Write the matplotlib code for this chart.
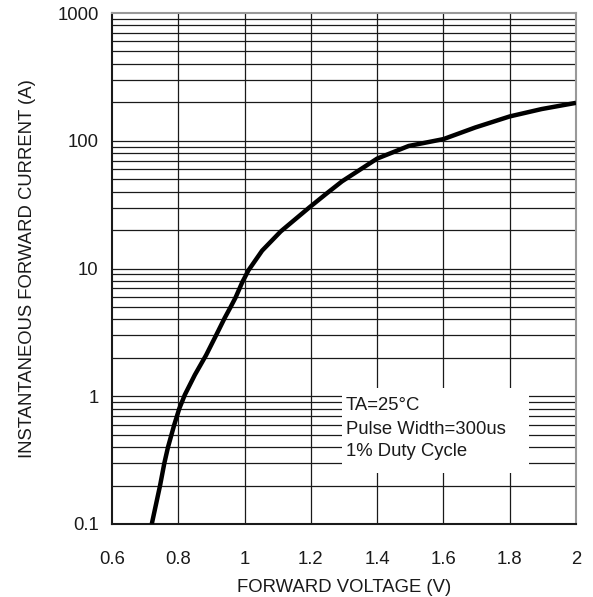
import matplotlib
matplotlib.use("Agg")
import matplotlib.pyplot as plt
from matplotlib.patches import Rectangle

plt.rcParams['font.family'] = ['Liberation Sans', 'DejaVu Sans']

# Data
voltage = [0.72, 0.745, 0.758, 0.769, 0.788, 0.803, 0.82, 0.85, 0.884, 0.916,
           0.94, 0.958, 0.973, 0.993, 1.012, 1.053, 1.109, 1.195, 1.245, 1.294,
           1.4, 1.495, 1.6, 1.696, 1.8, 1.896, 2.0]
current = [0.1, 0.2, 0.3, 0.4, 0.6, 0.8, 1.03, 1.47, 2.1, 3.07,
           4.1, 5.0, 5.94, 7.8, 9.7, 13.8, 19.5, 30.0, 38.2, 48.1,
           72.5, 91.0, 103.0, 127.0, 155.0, 177.0, 198.0]

x_ticks = [0.6, 0.8, 1.0, 1.2, 1.4, 1.6, 1.8, 2.0]
x_tick_labels = ["0.6", "0.8", "1", "1.2", "1.4", "1.6", "1.8", "2"]
y_ticks = [0.1, 1, 10, 100, 1000]
y_tick_labels = ["0.1", "1", "10", "100", "1000"]
notes = ["TA=25\u00b0C", "Pulse Width=300us", "1% Duty Cycle"]

fig = plt.figure(figsize=(5.93, 5.97), dpi=100)
ax = fig.add_axes([112/593, 1-524/597, 464/593, 511/597])
ax.set_yscale('log')
ax.set_xlim(0.6, 2.0)
ax.set_ylim(0.1, 1000)

# grid
gc = '#1a1a1a'
for xv in x_ticks[1:-1]:
    ax.axvline(xv, color=gc, lw=0.9, zorder=1)
for dec in [0.1, 1, 10, 100]:
    for m in range(1, 10):
        v = dec * m
        if 0.1 < v < 1000:
            ax.axhline(v, color=gc, lw=0.9, zorder=1)

# white box behind notes
ax.add_patch(Rectangle((1.295, 0.25), 1.857 - 1.295, 1.16 - 0.25,
                       facecolor='white', edgecolor='none', zorder=2))
ys = [405, 430, 452]
for t, yp in zip(notes, ys):
    ax.text(346/593, 1 - yp/597, t, transform=fig.transFigure, fontsize=13.3,
            color='#1a1a1a', va='center', ha='left', zorder=3)

ax.plot(voltage, current, color='black', lw=3.2, zorder=4, solid_capstyle='butt',
        solid_joinstyle='round')

ax.set_xticks(x_ticks)
ax.set_xticklabels(x_tick_labels)
ax.set_yticks(y_ticks)
ax.set_yticklabels(y_tick_labels)
ax.yaxis.set_minor_locator(matplotlib.ticker.NullLocator())
ax.tick_params(length=0, labelsize=13.3, colors='#1a1a1a')
ax.tick_params(axis='x', pad=19.5)
ax.tick_params(axis='y', pad=9.7)

for s in ['left', 'bottom']:
    ax.spines[s].set_color('#1a1a1a')
    ax.spines[s].set_linewidth(1.5)
for s in ['top', 'right']:
    ax.spines[s].set_color('#999999')
    ax.spines[s].set_linewidth(1.5)

ax.set_xlabel("FORWARD VOLTAGE (V)", fontsize=13.3, color='#1a1a1a', labelpad=7.5)
ax.set_ylabel("INSTANTANEOUS FORWARD CURRENT (A)", fontsize=13.3, color='#1a1a1a', labelpad=15.4)

fig.savefig("out.png", dpi=100)
